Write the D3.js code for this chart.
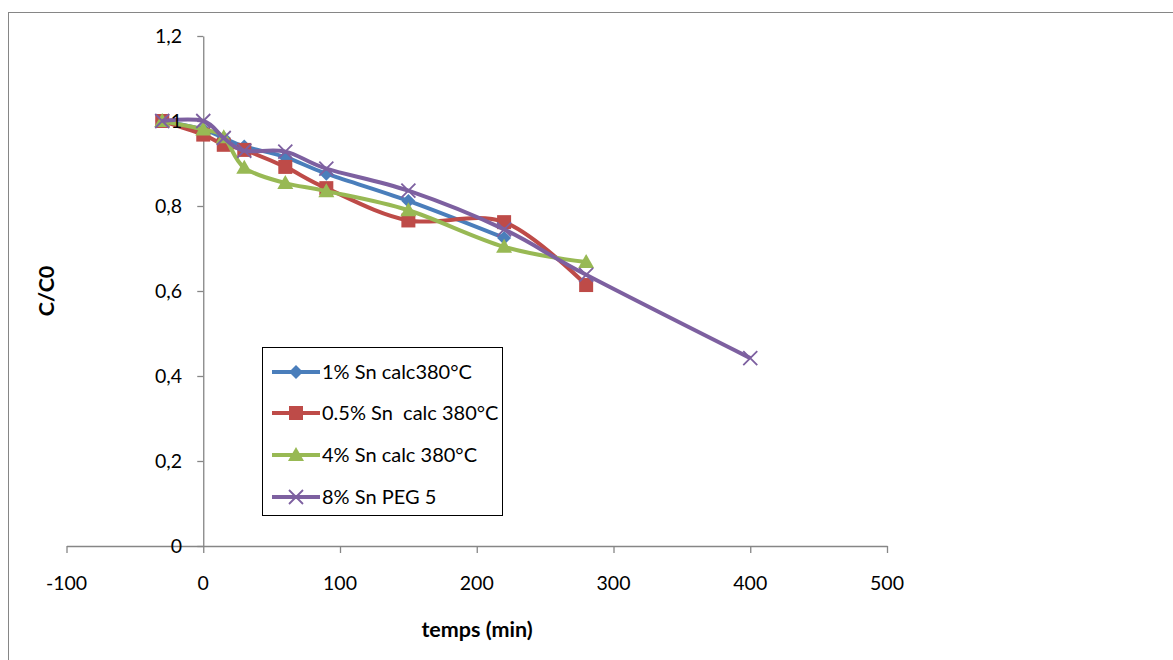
<!DOCTYPE html>
<html><head><meta charset="utf-8">
<script src="https://cdn.jsdelivr.net/npm/d3@7"></script>
<style>body{margin:0;background:#fff}svg{display:block}</style>
</head><body><svg id="c" width="1173" height="660"></svg>
<script>
const xTicks = [-100, 0, 100, 200, 300, 400, 500];
const yTicks = [0, 0.2, 0.4, 0.6, 0.8, 1, 1.2];
const yTickLabels = ["0", "0,2", "0,4", "0,6", "0,8", "1", "1,2"];
const seriesNames = ["1% Sn calc380°C", "0.5% Sn  calc 380°C", "4% Sn calc 380°C", "8% Sn PEG 5"];
const s1x = [-30, 0, 15, 30, 60, 90, 150, 220];
const s1y = [1.0, 0.98, 0.96, 0.94, 0.915, 0.876, 0.812, 0.725];
const s2x = [-30, 0, 15, 30, 60, 90, 150, 220, 280];
const s2y = [1.0, 0.968, 0.944, 0.932, 0.892, 0.842, 0.766, 0.762, 0.614];
const s3x = [-30, 0, 15, 30, 60, 90, 150, 220, 280];
const s3y = [1.0, 0.98, 0.962, 0.89, 0.854, 0.835, 0.79, 0.704, 0.668];
const s4x = [-30, 0, 15, 30, 60, 90, 150, 220, 280, 400];
const s4y = [1.0, 1.0, 0.96, 0.93, 0.928, 0.888, 0.836, 0.745, 0.638, 0.442];

const colors = ["#4A7EBB", "#BE4B48", "#98B954", "#7D60A0"];
const shapes = ["diamond", "square", "triangle", "x"];
const series = [[s1x, s1y], [s2x, s2y], [s3x, s3y], [s4x, s4y]].map((p, i) => ({
  name: seriesNames[i], color: colors[i], shape: shapes[i],
  pts: p[0].map((x, j) => [x, p[1][j]])
}));

const svg = d3.select("#c");
const FONT = "Lato, 'Open Sans', sans-serif";
const axisColor = "#868686";
const x = d3.scaleLinear().domain([-100, 500]).range([66.5, 887]);
const y = d3.scaleLinear().domain([0, 1.2]).range([546, 36]);

// outer border
svg.append("rect").attr("x", 8.5).attr("y", 12.5).attr("width", 1200).attr("height", 700)
  .attr("fill", "none").attr("stroke", axisColor).attr("stroke-width", 1);

// axis lines
const gx = svg.append("g").attr("transform", `translate(0,${y(0)})`)
  .call(d3.axisBottom(x).tickValues(xTicks).tickSize(7).tickSizeOuter(0).tickFormat(""));
const gy = svg.append("g").attr("transform", `translate(${x(0)},0)`)
  .call(d3.axisLeft(y).tickValues(yTicks).tickSize(6).tickSizeOuter(0).tickFormat(""));
[gx, gy].forEach(g => { g.selectAll("path,line").attr("stroke", axisColor).attr("stroke-width", 1.3); });

function marker(g, shape, color, cx, cy) {
  if (shape === "diamond") {
    g.append("path").attr("d", `M${cx},${cy-7}L${cx+7},${cy}L${cx},${cy+7}L${cx-7},${cy}Z`).attr("fill", color);
  } else if (shape === "square") {
    g.append("rect").attr("x", cx-7).attr("y", cy-7).attr("width", 14).attr("height", 14).attr("fill", color);
  } else if (shape === "triangle") {
    g.append("path").attr("d", `M${cx},${cy-8}L${cx+8},${cy+6}L${cx-8},${cy+6}Z`).attr("fill", color);
  } else {
    g.append("path").attr("d", `M${cx-7},${cy-7}L${cx+7},${cy+7}M${cx-7},${cy+7}L${cx+7},${cy-7}`)
      .attr("stroke", color).attr("stroke-width", 1.8).attr("fill", "none");
  }
}

const line = d3.line().x(d => x(d[0])).y(d => y(d[1])).curve(d3.curveCardinal.tension(0));
const plot = svg.append("g");
series.forEach(s => {
  plot.append("path").attr("d", line(s.pts)).attr("fill", "none")
    .attr("stroke", s.color).attr("stroke-width", 4).attr("stroke-linejoin", "round");
  s.pts.forEach(p => marker(plot, s.shape, s.color, x(p[0]), y(p[1])));
});

// tick labels on top
const lab = svg.append("g").attr("font-family", FONT).attr("font-size", 19.5).attr("fill", "#000");
xTicks.forEach(t => lab.append("text").attr("x", x(t)).attr("y", 590).attr("text-anchor", "middle").text(t));
yTicks.forEach((t, i) => lab.append("text").attr("x", 182).attr("y", y(t) + 7).attr("text-anchor", "end").text(yTickLabels[i]));

// axis titles
svg.append("text").attr("x", 477).attr("y", 637).attr("text-anchor", "middle")
  .attr("font-family", FONT).attr("font-size", 21.5).attr("font-weight", "bold").text("temps (min)");
svg.append("text").attr("transform", "translate(54,291) rotate(-90)").attr("text-anchor", "middle")
  .attr("font-family", FONT).attr("font-size", 21.5).attr("font-weight", "bold").text("C/C0");

// legend
const lg = svg.append("g");
lg.append("rect").attr("x", 262.5).attr("y", 347.5).attr("width", 240).attr("height", 168)
  .attr("fill", "#fff").attr("stroke", "#000").attr("stroke-width", 1);
const ly = [372, 413, 455, 497];
series.forEach((s, i) => {
  lg.append("line").attr("x1", 272).attr("x2", 320).attr("y1", ly[i]).attr("y2", ly[i])
    .attr("stroke", s.color).attr("stroke-width", 4);
  marker(lg, s.shape, s.color, 296, ly[i]);
  lg.append("text").attr("x", 322).attr("y", ly[i] + 7).attr("font-family", FONT).attr("font-size", 20)
    .attr("xml:space", "preserve").style("white-space", "pre").text(s.name);
});
</script></body></html>
